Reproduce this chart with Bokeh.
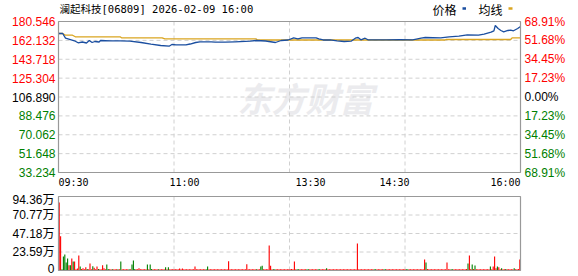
from bokeh.plotting import figure
from bokeh.models import Range1d
from bokeh.layouts import column
from bokeh.embed import file_html
from bokeh.resources import INLINE
from bokeh.core.properties import value

title_text = "澜起科技[06809] 2026-02-09 16:00"
legend_names = ["价格", "均线"]

price_minutes = [0, 3, 5, 12, 14, 17, 20, 22, 24, 26, 29, 30, 37, 44, 51, 59, 66, 73, 79, 81,
                 84, 91, 94, 98, 101, 109, 112, 119, 126, 137, 141, 148, 155, 159, 164, 168, 171, 174, 184, 186,
                 189, 194, 199, 204, 209, 212, 214, 216, 219, 221, 234, 244, 253, 259, 262, 273, 279, 286, 292, 300,
                 304, 309, 311, 312, 314, 316, 318, 321, 323, 325, 328, 330]
price_values = [168.84, 168.84, 164.25, 161.33, 159.77, 160.55, 159.57, 162.01, 160.06, 161.03,
                160.55, 162.01, 161.72, 161.72, 161.33, 160.06, 158.40, 157.13, 156.44, 158.10,
                157.81, 157.81, 158.59, 160.06, 160.74, 160.74, 160.35, 160.35, 160.74, 161.33,
                162.01, 161.52, 160.06, 162.01, 162.50, 164.64, 163.67, 164.64, 164.64, 163.67,
                162.50, 162.69, 161.72, 161.03, 161.33, 164.25, 164.94, 162.69, 164.25, 162.69,
                162.69, 162.79, 162.69, 164.25, 164.94, 164.64, 165.62, 166.20, 167.57, 167.18,
                168.16, 170.11, 171.47, 176.64, 173.72, 171.77, 170.50, 171.77, 172.06, 171.47,
                173.72, 175.67]

avg_minutes = [0, 3, 5, 10, 12, 44, 45, 74, 76, 141, 142, 276, 277, 323, 324, 330]
avg_values = [168.84, 168.84, 167.18, 167.18, 165.62, 165.62, 164.64, 164.64, 163.67, 163.67,
              162.50, 162.50, 163.00, 163.00, 164.64, 164.64]

price_ticks = [180.546, 162.132, 143.718, 125.304, 106.890, 88.476, 70.062, 51.648, 33.234]
price_labels = ["180.546", "162.132", "143.718", "125.304", "106.890", "88.476", "70.062", "51.648", "33.234"]
pct_labels = ["68.91%", "51.68%", "34.45%", "17.23%", "0.00%", "17.23%", "34.45%", "51.68%", "68.91%"]
tick_sign = [1, 1, 1, 1, 0, -1, -1, -1, -1]

time_ticks = [0, 90, 180, 240, 330]
time_labels = ["09:30", "11:00", "13:30", "14:30", "16:00"]
grid_minutes = [82.5, 165, 247.5]

vol_ticks = [94.36, 70.77, 47.18, 23.59, 0]
vol_labels = ["94.36万", "70.77万", "47.18万", "23.59万", "0"]

volumes = [
    86.7, 43.7, 1.5, 17.8, 20.4, 10.2, 15.3, 6.8, 6.8, 15.3, 11.5, 11.5, 1.5, 2.5, 19.1, 5.1, 2.0, 3.0, 1.5, 4.0,
    2.0, 1.5, 9.0, 1.5, 5.5, 3.5, 1.5, 5.0, 2.0, 1.5, 1.5, 6.8, 3.0, 1.5, 7.6, 2.0, 1.5, 1.5, 1.5, 1.5,
    1.5, 1.5, 1.5, 1.5, 11.5, 1.5, 1.5, 1.5, 1.5, 1.5, 1.5, 1.5, 7.6, 12.8, 2.0, 1.5, 1.5, 3.0, 1.5, 1.5,
    1.5, 1.5, 1.5, 7.6, 1.5, 7.6, 2.0, 1.5, 1.5, 1.5, 1.5, 1.5, 1.5, 1.5, 1.5, 1.5, 4.0, 1.5, 4.0, 1.5,
    1.5, 1.5, 1.5, 1.5, 1.5, 1.5, 2.5, 1.5, 2.5, 1.5, 1.5, 1.5, 1.5, 1.5, 1.5, 1.5, 1.5, 5.0, 1.5, 1.5,
    1.5, 1.5, 1.5, 1.5, 1.5, 1.5, 5.0, 1.5, 1.5, 1.5, 1.5, 1.5, 1.5, 1.5, 1.5, 1.5, 1.5, 1.5, 1.5, 1.5,
    1.5, 11.9, 1.5, 1.5, 1.5, 1.5, 1.5, 1.5, 1.5, 1.5, 1.5, 1.5, 1.5, 1.5, 8.0, 1.5, 1.5, 1.5, 1.5, 1.5,
    1.5, 1.5, 1.5, 1.5, 5.0, 6.0, 1.5, 1.5, 1.5, 1.5, 31.9, 6.0, 1.5, 1.5, 1.5, 1.5, 1.5, 1.5, 1.5, 1.5,
    1.5, 1.5, 1.5, 1.5, 1.5, 1.5, 2.0, 1.5, 11.5, 1.5, 1.5, 1.5, 1.5, 1.5, 1.5, 1.5, 1.5, 1.5, 1.5, 1.5,
    1.5, 1.5, 1.5, 1.5, 1.5, 1.5, 1.5, 1.5, 1.5, 1.5, 1.5, 3.0, 1.5, 1.5, 1.5, 1.5, 1.5, 1.5, 1.5, 1.5,
    1.5, 1.5, 1.5, 1.5, 1.5, 1.5, 1.5, 1.5, 1.5, 1.5, 1.5, 1.5, 1.5, 34.4, 1.5, 1.5, 1.5, 1.5, 1.5, 1.5,
    1.5, 1.5, 1.5, 1.5, 1.5, 1.5, 1.5, 1.5, 1.5, 1.5, 1.5, 1.5, 1.5, 1.5, 1.5, 1.5, 1.5, 1.5, 1.5, 1.5,
    1.5, 1.5, 1.5, 1.5, 1.5, 1.5, 1.5, 1.5, 1.5, 1.5, 1.5, 1.5, 1.5, 1.5, 1.5, 1.5, 1.5, 1.5, 1.5, 1.5,
    1.5, 14.0, 10.2, 2.0, 1.5, 1.5, 1.5, 1.5, 1.5, 1.5, 1.5, 1.5, 1.5, 1.5, 1.5, 1.5, 1.5, 10.2, 1.5, 1.5,
    1.5, 1.5, 1.5, 1.5, 1.5, 1.5, 1.5, 1.5, 1.5, 1.5, 1.5, 2.0, 8.9, 19.1, 2.0, 7.6, 2.0, 6.4, 1.5, 1.5,
    1.5, 1.5, 1.5, 1.5, 1.5, 1.5, 1.5, 1.5, 5.0, 1.5, 5.0, 17.9, 3.0, 5.0, 4.0, 1.5, 3.0, 1.5, 1.5, 2.0,
    1.5, 1.5, 1.5, 1.5, 1.5, 3.0, 1.5, 1.5, 2.0, 14.0,
]
vol_dirs = ("rrgggggrgrgrrrrgrrrr" "grrrgrrrgrrrrrggrrgr" "rrgrgrrrrrgrgggrrrrr" "rrrgrggrrrrgrrrrgrgr"
            "rrrrrrrrrrrrrrrrrrrr" "rrrrrggrrrrrrrrrrrrr" "rrrrrrrrrrrrrrrrrrrr" "rgrrggrrrrrrrggrrrrr"
            "rrrrrrrrrrggrrrrrggr" "rrrrrggrrrrgrrrrrrrr" "rrrrrrrrrrrrrrrrrrrr" "rrrrrggrrrrrggrrrrrr"
            "rrrrrrrrggrrrrrrrrrr" "rrgrrrrrrrrrrrrrrrrr" "ggrrrrrrrrrrgrrgrgrr" "rrrrrrrrgrrrrgrrgrrg"
            "rrrrrgrrrr")
assert len(volumes) == len(vol_dirs) == 330

RED = "#ff0000"
GREEN = "#008000"
BLUE = "#1a4ea0"
GOLD = "#daa520"
NUM_FONT = value("Liberation Sans, Noto Sans CJK SC")
CJK_FONT = value("Noto Sans CJK SC")
GRID_COLOR = "#d0d0d0"
FRAME_COLOR = "#999999"

# ---- page geometry (pixels) ----
W = 578
PLOT_L, PLOT_R = 58, 520          # plot box, shared by both panels
H1, P_TOP, P_BOT = 190, 21, 172   # price panel
H2, V_TOP, V_BOT = 86, 6, 80      # volume panel (relative to its own top)

X0, X1 = time_ticks[0], time_ticks[-1]
PMAX, PMIN = price_ticks[0], price_ticks[-1]
VMAX, VMIN = vol_ticks[0], vol_ticks[-1]

xk = (X1 - X0) / (PLOT_R - PLOT_L)
pk = (PMAX - PMIN) / (P_BOT - P_TOP)
vk = (VMAX - VMIN) / (V_BOT - V_TOP)


def px_x(px):
    return X0 + (px - PLOT_L) * xk


def px_py(py):
    return PMAX - (py - P_TOP) * pk


def px_vy(py):
    return VMAX - (py - V_TOP) * vk


def sign_color(s):
    return RED if s > 0 else (GREEN if s < 0 else "#000000")


def base_fig(h, y0, y1):
    f = figure(width=W, height=h, x_range=Range1d(px_x(0), px_x(W)), y_range=Range1d(y0, y1),
               x_axis_type=None, y_axis_type=None, output_backend="svg", toolbar_location=None,
               min_border=0, min_border_left=0, min_border_right=0, min_border_top=0,
               min_border_bottom=0, title=None)
    f.outline_line_color = None
    f.background_fill_color = "white"
    f.border_fill_color = "white"
    return f


# ---------------- price panel ----------------
p = base_fig(H1, px_py(H1), px_py(0))

# watermark
p.text(x=[px_x(237)], y=[px_py(97)], text=["东方财富"], text_font=CJK_FONT,
       text_font_style="bold italic", text_font_size="34px", text_color="#ebebee",
       text_align="left", text_baseline="middle")

# grid
hg = price_ticks[1:-1]
p.segment(x0=[X0] * len(hg), x1=[X1] * len(hg), y0=hg, y1=hg,
          line_color=GRID_COLOR, line_dash="4 3", line_width=1)
p.segment(x0=grid_minutes, x1=grid_minutes, y0=[PMIN] * len(grid_minutes), y1=[PMAX] * len(grid_minutes),
          line_color=GRID_COLOR, line_dash="4 3", line_width=1)

# lines
p.line(avg_minutes, avg_values, line_color=GOLD, line_width=1.3)
p.line(price_minutes, price_values, line_color=BLUE, line_width=1.3)

# frame
p.quad(left=[X0], right=[X1], bottom=[PMIN], top=[PMAX], fill_color=None,
       line_color=FRAME_COLOR, line_width=1.2)

# tick labels
p.text(x=[px_x(55)] * len(price_ticks), y=price_ticks, text=price_labels,
       text_color=[sign_color(s) for s in tick_sign], text_font=NUM_FONT, text_font_size="12px",
       text_align="right", text_baseline="middle")
p.text(x=[px_x(524)] * len(price_ticks), y=price_ticks, text=pct_labels,
       text_color=[sign_color(s) for s in tick_sign], text_font=NUM_FONT, text_font_size="12px",
       text_align="left", text_baseline="middle")

ty = px_py(182)
TIME_FONT = value("DejaVu Sans Mono")
p.text(x=[time_ticks[0]], y=[ty], text=[time_labels[0]], text_font=TIME_FONT, text_font_size="10px",
       text_color="#000000", text_align="left", text_baseline="middle")
p.text(x=time_ticks[1:-1], y=[ty] * 3, text=time_labels[1:-1], text_font=TIME_FONT, text_font_size="10px",
       text_color="#000000", text_align="center", text_baseline="middle")
p.text(x=[time_ticks[-1]], y=[ty], text=[time_labels[-1]], text_font=TIME_FONT, text_font_size="10px",
       text_color="#000000", text_align="right", text_baseline="middle")

# title
p.text(x=[px_x(59)], y=[px_py(8)], text=[title_text], text_font=value("DejaVu Sans Mono, Noto Sans CJK SC"),
       text_font_size="10.5px", text_color="#000000", text_align="left", text_baseline="middle")

# legend
p.text(x=[px_x(432), px_x(478)], y=[px_py(9)] * 2, text=legend_names, text_font=CJK_FONT,
       text_font_size="12px", text_color="#000000", text_align="left", text_baseline="middle")
p.quad(left=[px_x(462)], right=[px_x(465.5)], top=[px_py(6.8)], bottom=[px_py(9.3)],
       fill_color=BLUE, line_color=None)
p.quad(left=[px_x(508)], right=[px_x(512)], top=[px_py(6.8)], bottom=[px_py(9.3)],
       fill_color=GOLD, line_color=None)

# ---------------- volume panel ----------------
v = base_fig(H2, px_vy(H2), px_vy(0))
vg = vol_ticks[1:-1]
v.segment(x0=[X0] * len(vg), x1=[X1] * len(vg), y0=vg, y1=vg,
          line_color=GRID_COLOR, line_dash="4 3", line_width=1)
v.segment(x0=grid_minutes, x1=grid_minutes, y0=[VMIN] * len(grid_minutes), y1=[VMAX] * len(grid_minutes),
          line_color=GRID_COLOR, line_dash="4 3", line_width=1)

bar_x = [X0 + i + 0.5 for i in range(len(volumes))]
bar_colors = [RED if d == "r" else GREEN for d in vol_dirs]
v.vbar(x=bar_x, width=0.8, top=volumes, bottom=0, fill_color=bar_colors, line_color=None)

v.quad(left=[X0], right=[X1], bottom=[VMIN], top=[VMAX], fill_color=None,
       line_color=FRAME_COLOR, line_width=1.2)

v.text(x=[px_x(54)], y=[px_vy(V_TOP + 3)], text=[vol_labels[0]], text_font=NUM_FONT,
       text_font_size="12px", text_color="#000000", text_align="right", text_baseline="middle")
v.text(x=[px_x(54)] * 3, y=vol_ticks[1:-1], text=vol_labels[1:-1], text_font=NUM_FONT,
       text_font_size="12px", text_color="#000000", text_align="right", text_baseline="middle")
# bottom label, raised a little so its full box stays inside the canvas
v.text(x=[px_x(54)], y=[px_vy(V_BOT - 2)], text=[vol_labels[-1]], text_font=NUM_FONT,
       text_font_size="12px", text_color="#000000", text_align="right", text_baseline="middle")

layout = column(p, v, spacing=0)
open("out.html", "w").write(file_html(layout, INLINE))
